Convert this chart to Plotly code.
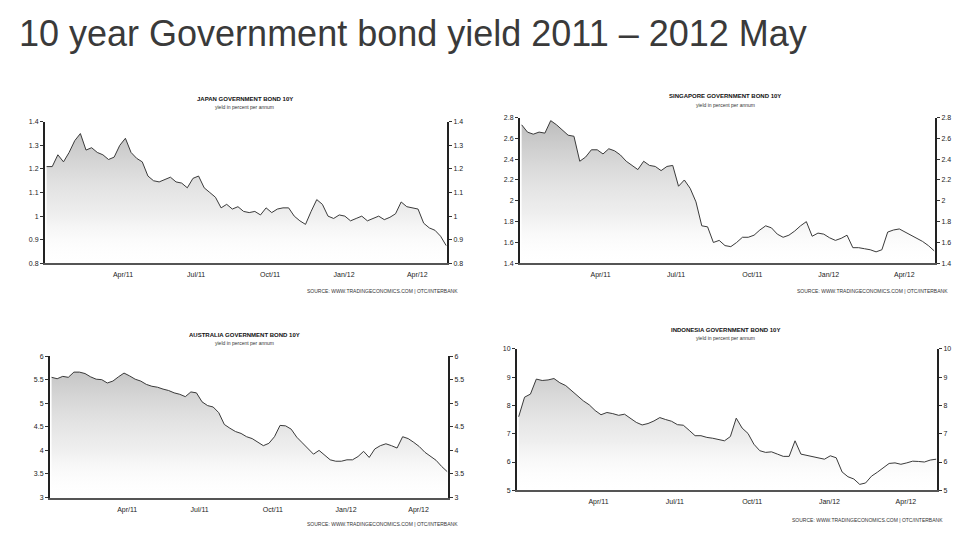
import plotly.graph_objects as go
import pandas as pd

# ---------------- data (weekly readings, Jan 2011 - May 2012) ----------------
dates = pd.date_range("2010-12-27", periods=72, freq="7D")

japan = [1.21, 1.21, 1.26, 1.23, 1.27, 1.32, 1.35, 1.28, 1.29, 1.27,
         1.26, 1.24, 1.25, 1.30, 1.33, 1.27, 1.245, 1.23, 1.17, 1.15,
         1.145, 1.155, 1.165, 1.145, 1.14, 1.12, 1.16, 1.17, 1.12, 1.10,
         1.08, 1.035, 1.05, 1.03, 1.04, 1.02, 1.015, 1.02, 1.005, 1.035,
         1.015, 1.03, 1.035, 1.035, 1.0, 0.98, 0.965, 1.02, 1.07, 1.05,
         1.0, 0.99, 1.005, 1.0, 0.98, 0.99, 1.0, 0.98, 0.99, 1.0,
         0.985, 0.995, 1.01, 1.06, 1.04, 1.035, 1.03, 0.97, 0.95, 0.94,
         0.915, 0.875]

singapore = [2.73, 2.66, 2.64, 2.66, 2.65, 2.77, 2.73, 2.68, 2.63, 2.62,
             2.38, 2.42, 2.49, 2.49, 2.45, 2.50, 2.48, 2.44, 2.38, 2.34,
             2.30, 2.38, 2.34, 2.33, 2.29, 2.33, 2.34, 2.14, 2.20, 2.12,
             1.99, 1.76, 1.75, 1.60, 1.62, 1.57, 1.56, 1.60, 1.65, 1.65,
             1.67, 1.72, 1.76, 1.74, 1.68, 1.65, 1.67, 1.71, 1.76, 1.80,
             1.66, 1.69, 1.68, 1.645, 1.62, 1.64, 1.67, 1.55, 1.55, 1.54,
             1.53, 1.51, 1.53, 1.70, 1.72, 1.73, 1.70, 1.67, 1.645, 1.61,
             1.57, 1.52]

australia = [5.55, 5.52, 5.57, 5.55, 5.66, 5.66, 5.63, 5.56, 5.51, 5.50,
             5.43, 5.47, 5.56, 5.64, 5.58, 5.51, 5.47, 5.40, 5.36, 5.34,
             5.30, 5.27, 5.22, 5.19, 5.14, 5.24, 5.22, 5.03, 4.95, 4.92,
             4.80, 4.55, 4.47, 4.40, 4.36, 4.29, 4.25, 4.18, 4.10, 4.15,
             4.29, 4.53, 4.52, 4.45, 4.28, 4.16, 4.05, 3.92, 4.00, 3.90,
             3.80, 3.77, 3.77, 3.80, 3.80, 3.87, 3.98, 3.85, 4.03, 4.10,
             4.14, 4.10, 4.05, 4.29, 4.25, 4.17, 4.08, 3.96, 3.87, 3.79,
             3.66, 3.55]

indonesia = [7.60, 8.29, 8.40, 8.93, 8.88, 8.90, 8.95, 8.80, 8.70, 8.52,
             8.31, 8.16, 8.02, 7.82, 7.67, 7.75, 7.71, 7.65, 7.69, 7.56,
             7.40, 7.31, 7.36, 7.45, 7.57, 7.50, 7.44, 7.32, 7.30, 7.12,
             6.93, 6.93, 6.87, 6.84, 6.79, 6.75, 6.90, 7.55, 7.20, 7.01,
             6.63, 6.40, 6.34, 6.36, 6.28, 6.20, 6.20, 6.75, 6.28, 6.24,
             6.20, 6.14, 6.10, 6.22, 6.15, 5.65, 5.48, 5.40, 5.21, 5.26,
             5.50, 5.64, 5.80, 5.95, 5.97, 5.92, 5.97, 6.03, 6.02, 6.00,
             6.07, 6.10]

x_tickvals = ["2011-04-01", "2011-07-01", "2011-10-01", "2012-01-01", "2012-04-01"]
x_ticktext = ["Apr/11", "Jul/11", "Oct/11", "Jan/12", "Apr/12"]

jp_ticks = [0.8, 0.9, 1.0, 1.1, 1.2, 1.3, 1.4]
jp_labels = ["0.8", "0.9", "1", "1.1", "1.2", "1.3", "1.4"]
sg_ticks = [1.4, 1.6, 1.8, 2.0, 2.2, 2.4, 2.6, 2.8]
sg_labels = ["1.4", "1.6", "1.8", "2", "2.2", "2.4", "2.6", "2.8"]
au_ticks = [3, 3.5, 4, 4.5, 5, 5.5, 6]
au_labels = ["3", "3.5", "4", "4.5", "5", "5.5", "6"]
id_ticks = [5, 6, 7, 8, 9, 10]
id_labels = ["5", "6", "7", "8", "9", "10"]

titles = ["JAPAN GOVERNMENT BOND 10Y", "SINGAPORE GOVERNMENT BOND 10Y",
          "AUSTRALIA GOVERNMENT BOND 10Y", "INDONESIA GOVERNMENT BOND 10Y"]
subtitles = ["yield in percent per annum", "yield in percent per annum",
             "yield in percent per annum", "yield in percent per annum"]
source = "SOURCE: WWW.TRADINGECONOMICS.COM | OTC/INTERBANK"
main_title = "10 year Government bond yield 2011 \u2013 2012 May"

# ---------------- layout helpers ----------------
W, H = 960, 542
def px(x):
    return x / W
def py(y):
    return 1 - y / H

FONT = "Liberation Sans"
panels = [
    dict(y=japan, ticks=jp_ticks, labels=jp_labels, rng=[0.8, 1.4],
         box=(45, 447, 119.3, 262.7), title_xy=(245, 96), sub_y=104,
         xlab_y=272, src=(460, 291)),
    dict(y=singapore, ticks=sg_ticks, labels=sg_labels, rng=[1.4, 2.8],
         box=(520, 935, 115, 262.7), title_xy=(725, 93), sub_y=102,
         xlab_y=273, src=(950, 291)),
    dict(y=australia, ticks=au_ticks, labels=au_labels, rng=[3, 6],
         box=(50, 448, 356.7, 500), title_xy=(245, 335), sub_y=343,
         xlab_y=512, src=(460, 527)),
    dict(y=indonesia, ticks=id_ticks, labels=id_labels, rng=[5, 10],
         box=(517, 937, 349.3, 492.7), title_xy=(725, 330), sub_y=338,
         xlab_y=503, src=(945, 523)),
]

fig = go.Figure()
layout = dict(width=W, height=H, margin=dict(l=0, r=0, t=0, b=0),
              paper_bgcolor="white", plot_bgcolor="white", showlegend=False,
              font=dict(family=FONT, color="#222"))
annotations = []

for i, p in enumerate(panels):
    xi = i + 1
    yl = 2 * i + 1
    yr = 2 * i + 2
    xname = "x" if xi == 1 else f"x{xi}"
    ylname = "y" if yl == 1 else f"y{yl}"
    yrname = f"y{yr}"
    x0, x1, ytop, ybot = p["box"]
    lo, hi = p["rng"]

    fig.add_trace(go.Scatter(
        x=dates, y=p["y"], xaxis=xname, yaxis=ylname, mode="lines",
        line=dict(color="#3a3a3a", width=1),
        fill="tozeroy",
        fillgradient=dict(type="vertical", start=lo, stop=hi,
                          colorscale=[[0, "rgba(255,255,255,0)"],
                                      [0.35, "rgba(200,200,200,0.3)"],
                                      [1, "rgba(130,130,130,0.55)"]]),
        hoverinfo="skip"))
    # invisible trace to anchor the right-hand axis
    fig.add_trace(go.Scatter(
        x=dates, y=p["y"], xaxis=xname, yaxis=yrname, mode="lines",
        line=dict(color="rgba(0,0,0,0)", width=0), hoverinfo="skip"))

    xkey = "xaxis" if xi == 1 else f"xaxis{xi}"
    ylkey = "yaxis" if yl == 1 else f"yaxis{yl}"
    yrkey = f"yaxis{yr}"
    layout[xkey] = dict(
        domain=[px(x0), px(x1)], anchor=ylname,
        range=["2010-12-25", "2012-05-08"], type="date",
        tickvals=x_tickvals, ticktext=x_ticktext, ticks="", showgrid=False,
        zeroline=False, showline=True, linecolor="#555", linewidth=1.5,
        tickfont=dict(size=7, color="#222", family=FONT), ticklabelstandoff=4)
    common_y = dict(
        domain=[py(ybot), py(ytop)], range=[lo, hi], tickvals=p["ticks"],
        ticktext=p["labels"], showgrid=False, zeroline=False, showline=True,
        linecolor="#222", linewidth=2, ticks="outside", ticklen=3,
        tickcolor="#333", tickfont=dict(size=7, color="#222", family=FONT))
    layout[ylkey] = dict(common_y, anchor=xname, side="left")
    layout[yrkey] = dict(common_y, anchor=xname, side="right", overlaying=ylname)

    tx, ty = p["title_xy"]
    annotations.append(dict(
        text="<b>" + titles[i] + "</b>", x=px(tx), y=py(ty), xref="paper",
        yref="paper", showarrow=False, xanchor="center", yanchor="middle",
        font=dict(size=6, color="#111", family=FONT)))
    annotations.append(dict(
        text=subtitles[i], x=px(tx), y=py(p["sub_y"]), xref="paper",
        yref="paper", showarrow=False, xanchor="center", yanchor="middle",
        font=dict(size=5, color="#333", family=FONT)))
    sx, sy = p["src"]
    annotations.append(dict(
        text=source, x=px(sx), y=py(sy), xref="paper", yref="paper",
        showarrow=False, xanchor="right", yanchor="middle",
        font=dict(size=5, color="#333", family=FONT)))

annotations.append(dict(
    text=main_title, x=px(17), y=py(30), xref="paper", yref="paper",
    showarrow=False, xanchor="left", yanchor="middle",
    font=dict(size=36, color="#3a3a3a", family=FONT)))

layout["annotations"] = annotations
fig.update_layout(**layout)
fig.write_html("out.html")
